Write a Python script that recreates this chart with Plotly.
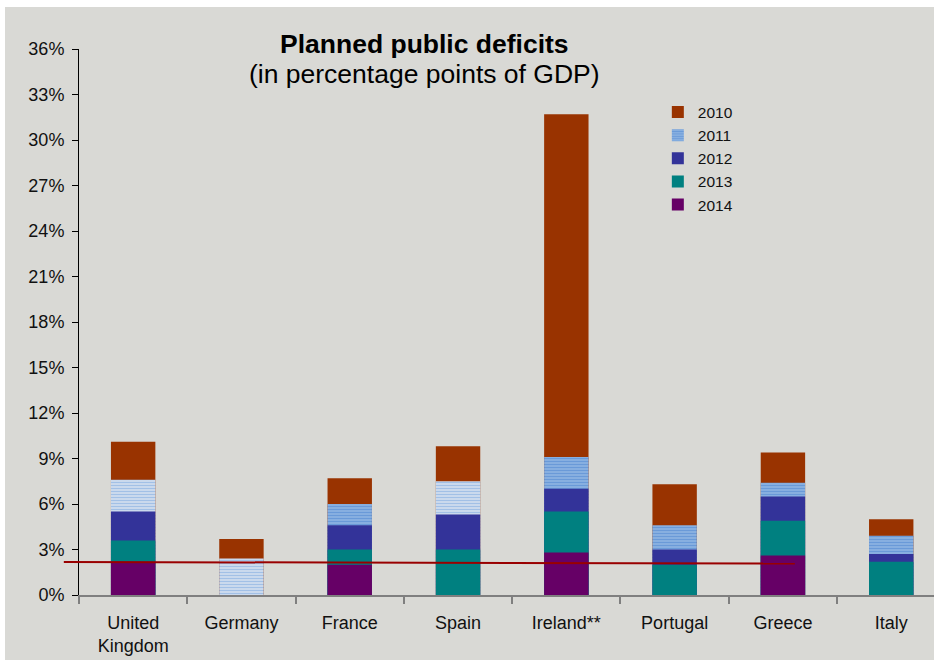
import plotly.graph_objects as go

# Planned general government deficits by country (% of GDP)
countries = ["United<br>Kingdom", "Germany", "France", "Spain", "Ireland**",
             "Portugal", "Greece", "Italy"]
years = ["2010", "2011", "2012", "2013", "2014"]
deficit_2010 = [10.1, 3.7, 7.7, 9.8, 31.7, 7.3, 9.4, 5.0]
deficit_2011 = [7.6, 2.4, 6.0, 7.5, 9.1, 4.6, 7.4, 3.9]
deficit_2012 = [5.5, None, 4.6, 5.3, 7.0, 3.0, 6.5, 2.7]
deficit_2013 = [3.6, None, 3.0, 3.0, 5.5, 2.0, 4.9, 2.2]
deficit_2014 = [2.2, None, 2.0, None, 2.8, None, 2.6, None]
y_tick_values = list(range(0, 37, 3))
y_tick_labels = [f"{v}%" for v in y_tick_values]

# reference level drawn across the chart (start and end level, % of GDP)
ref_level_start = 2.18
ref_level_end = 2.07
ref_cat_start = -0.64   # category units
ref_cat_end = 6.11

FONT = "Liberation Sans, Arial, sans-serif"
BG = "#D9D9D5"
colors = {"2010": "#993300", "2012": "#333399", "2013": "#008080", "2014": "#660066"}
# 2011 hatch: paler variant for UK, Germany, Spain
pale = {"United<br>Kingdom", "Germany", "Spain"}
HATCH_PALE = ("#DDE6F1", "#A2C0E6", 0.55)
HATCH_BLUE = ("#8DB4E2", "#6A9AD8", 0.45)

BAR_W = 0.41
X_RANGE = [-0.5, 7.395]


def hatch_marker(bg, fg, solidity):
    return dict(color=bg, line=dict(width=0),
                pattern=dict(shape="-", fillmode="overlay", fgcolor=fg,
                             fgopacity=1, size=3, solidity=solidity))


fig = go.Figure()
series = [("2010", deficit_2010), ("2011", deficit_2011), ("2012", deficit_2012),
          ("2013", deficit_2013), ("2014", deficit_2014)]
for rank, (yr, vals) in enumerate(series):
    if yr == "2011":
        pale_vals = [v if c in pale else None for c, v in zip(countries, vals)]
        blue_vals = [None if c in pale else v for c, v in zip(countries, vals)]
        fig.add_trace(go.Bar(
            x=countries, y=pale_vals, name=yr, width=BAR_W, showlegend=False,
            marker=hatch_marker(*HATCH_PALE)))
        fig.add_trace(go.Bar(
            x=countries, y=blue_vals, name=yr, width=BAR_W, legendrank=rank + 1,
            marker=hatch_marker(*HATCH_BLUE)))
    else:
        fig.add_trace(go.Bar(
            x=countries, y=vals, name=yr, width=BAR_W, legendrank=rank + 1,
            marker=dict(color=colors[yr], line=dict(width=0))))


def cat_to_paper(c):
    return (c - X_RANGE[0]) / (X_RANGE[1] - X_RANGE[0])


ML, MR, MT, MB = 79, 0, 49, 66
W, H = 934, 661
pw, ph = W - ML - MR, H - MT - MB

shapes = [
    # chart area background (thin white edge at top/left/bottom)
    dict(type="rect", xref="paper", yref="paper", layer="below",
         x0=(5 - ML) / pw, x1=1.0, y0=-(MB - 1) / ph, y1=1 + (MT - 7) / ph,
         fillcolor=BG, line=dict(width=0)),
    dict(type="line", xref="paper", yref="y", layer="above",
         x0=cat_to_paper(ref_cat_start), x1=cat_to_paper(ref_cat_end),
         y0=ref_level_start, y1=ref_level_end,
         line=dict(color="#990000", width=2)),
]

annotations = [
    dict(text="<b>Planned public deficits</b>", xref="paper", yref="paper",
         x=(424 - ML) / pw, y=1 + (MT - 44) / ph, xanchor="center", yanchor="middle",
         showarrow=False, font=dict(family=FONT, size=26.5, color="#000000")),
    dict(text="(in percentage points of GDP)", xref="paper", yref="paper",
         x=(424 - ML) / pw, y=1 - (74 - MT) / ph, xanchor="center", yanchor="middle",
         showarrow=False, font=dict(family=FONT, size=26.5, color="#000000")),
]

fig.update_layout(
    width=W, height=H,
    margin=dict(l=ML, r=MR, t=MT, b=MB, pad=0),
    barmode="overlay",
    paper_bgcolor="#FFFFFF", plot_bgcolor=BG,
    font=dict(family=FONT, size=18, color="#111111"),
    shapes=shapes, annotations=annotations,
    legend=dict(x=0.677, y=0.915, xanchor="left", yanchor="top",
                bgcolor="rgba(0,0,0,0)", font=dict(family=FONT, size=15.5, color="#111111"),
                traceorder="normal", itemclick=False),
    xaxis=dict(range=X_RANGE, showgrid=False, showline=True, linecolor="#7F7F7F",
               linewidth=2, ticks="outside", tickson="boundaries", ticklen=7,
               tickcolor="#7F7F7F", tickwidth=2, ticklabelstandoff=10,
               tickfont=dict(size=18, color="#111111"), fixedrange=True),
    yaxis=dict(range=[0, 36], tickvals=y_tick_values, ticktext=y_tick_labels,
               showgrid=False, zeroline=False, showline=True, linecolor="#000000",
               linewidth=1, ticks="outside", ticklen=6, tickcolor="#000000",
               ticklabelstandoff=4,
               tickfont=dict(size=18, color="#111111"), fixedrange=True),
)

fig.write_html("out.html")
